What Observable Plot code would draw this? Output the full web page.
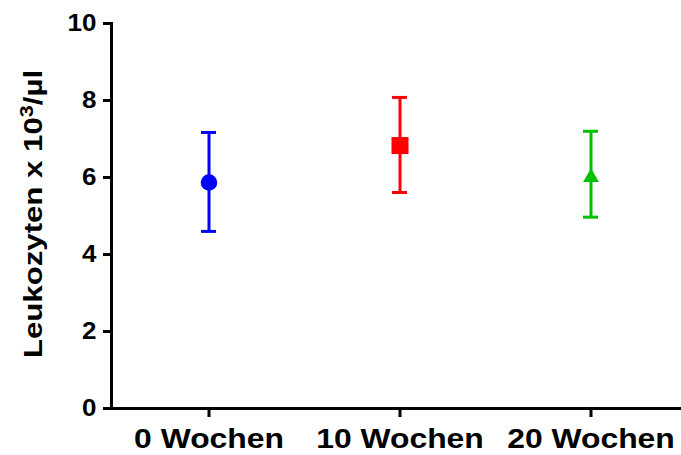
<!DOCTYPE html>
<html><head><meta charset="utf-8">
<script src="https://cdn.jsdelivr.net/npm/d3@7"></script>
<script src="https://cdn.jsdelivr.net/npm/@observablehq/plot@0.6"></script>
<style>body{margin:0;background:#fff}</style>
</head><body><div id="chart"></div>
<script>
// Data
const categories = ["0 Wochen", "10 Wochen", "20 Wochen"];
const means = [5.87, 6.83, 6.0];
const lows = [4.6, 5.61, 4.97];
const highs = [7.17, 8.08, 7.2];
const yTicks = [0, 2, 4, 6, 8, 10];
const yLabelMain = "Leukozyten x 10";
const yLabelSup = "3";
const yLabelUnit = "/µl";

// Styles
const colors = ["#0000ff", "#ff0000", "#00c000"];
const shapes = ["circle", "square", "triangle"];
const sizes = [8.3, 9.6, 5.9];

const rows = categories.map((c, i) => ({t: c, mean: means[i], lo: lows[i], hi: highs[i]}));
const font = "'Liberation Sans', Arial, sans-serif";

const marks = [
  Plot.frame({anchor: "left", strokeWidth: 3, strokeLinecap: "square"}),
  Plot.frame({anchor: "bottom", strokeWidth: 3, strokeLinecap: "square"}),
  Plot.axisY({ticks: yTicks, tickSize: 8, tickPadding: 7, strokeWidth: 3, fontSize: 24.5, fontWeight: "bold", label: null}),
  Plot.axisX({tickSize: 9, tickPadding: 11, strokeWidth: 3, fontSize: 27, fontWeight: "bold", label: null}),
  Plot.text([yLabelMain + yLabelSup + yLabelUnit], {text: d => d, frameAnchor: "left", textAnchor: "middle", rotate: -90, dx: -78, dy: -2, fontSize: 26, fontWeight: "bold", lineAnchor: "middle"})
];
rows.forEach((d, i) => {
  marks.push(Plot.ruleX([d], {x: "t", y1: "lo", y2: "hi", stroke: colors[i], strokeWidth: 3}));
  marks.push(Plot.tickY([d], {x: "t", y: "lo", stroke: colors[i], strokeWidth: 3, insetLeft: 88, insetRight: 88}));
  marks.push(Plot.tickY([d], {x: "t", y: "hi", stroke: colors[i], strokeWidth: 3, insetLeft: 88, insetRight: 88}));
  marks.push(Plot.dot([d], {x: "t", y: "mean", symbol: shapes[i], r: sizes[i], fill: colors[i], stroke: "none"}));
});

const chart = Plot.plot({
  width: 681,
  height: 455,
  marginLeft: 111,
  marginRight: 0,
  marginTop: 23,
  marginBottom: 47,
  style: {fontFamily: font, color: "#000", background: "#fff"},
  x: {type: "band", domain: categories, range: [112, 687], padding: 0},
  y: {domain: [0, 10]},
  marks
});

// GraphPad-style horizontally stretched text
chart.querySelectorAll('[aria-label="x-axis tick label"] text').forEach(t => {
  const tr = t.getAttribute("transform") || "";
  t.setAttribute("transform", tr + " scale(1.18,1)");
});
chart.querySelectorAll('[aria-label="y-axis tick label"] text').forEach(t => {
  const tr = t.getAttribute("transform") || "";
  t.setAttribute("transform", tr + " scale(1.06,1)");
});
const ns = "http://www.w3.org/2000/svg";
chart.querySelectorAll('[aria-label="text"] text').forEach(t => {
  const tr = t.getAttribute("transform") || "";
  t.setAttribute("transform", tr + " scale(1.2,1)");
  t.textContent = yLabelMain;
  const sup = document.createElementNS(ns, "tspan");
  sup.setAttribute("dy", "-9");
  sup.setAttribute("font-size", "18");
  sup.textContent = yLabelSup;
  const unit = document.createElementNS(ns, "tspan");
  unit.setAttribute("dy", "9");
  unit.textContent = yLabelUnit;
  t.appendChild(sup);
  t.appendChild(unit);
});

document.getElementById("chart").appendChild(chart);
</script>
</body></html>
